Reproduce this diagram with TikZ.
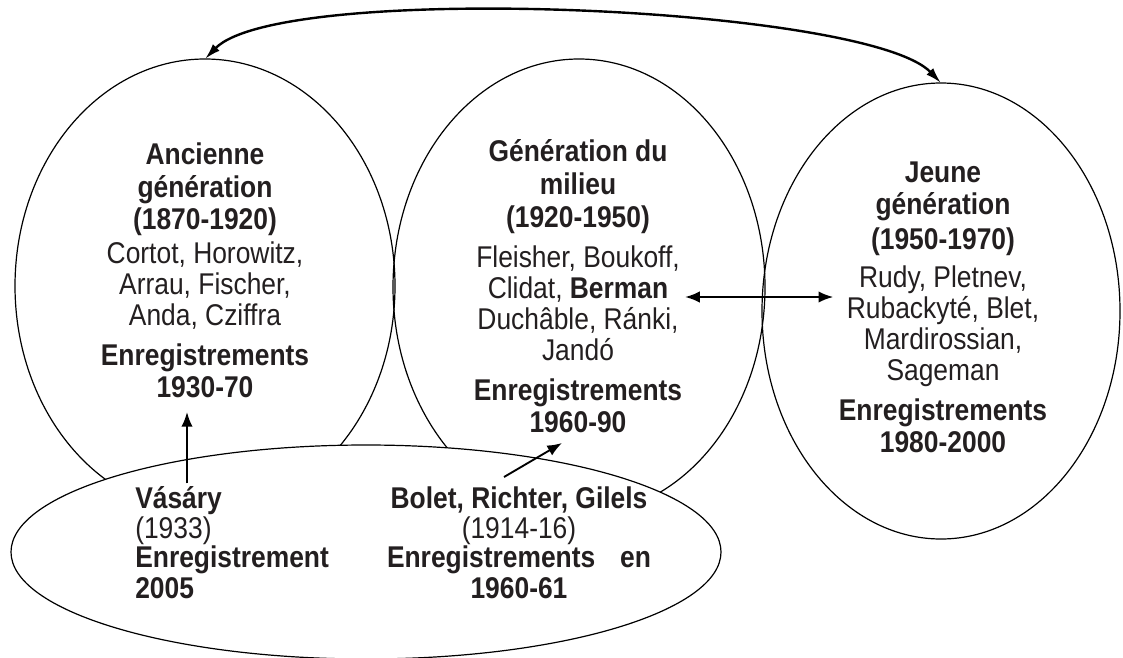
\documentclass[tikz,border=0pt]{standalone}
\usepackage{fontspec}
\setmainfont{Liberation Sans}[FakeStretch=0.88]
\usetikzlibrary{shapes.geometric,arrows.meta}
\definecolor{ink}{RGB}{35,31,32}
\begin{document}
\begin{tikzpicture}[x=0.75pt, y=-0.75pt,
    gen/.style={ellipse, draw, line width=0.9pt, inner sep=0pt, outer sep=0pt},
    txt/.style={align=center, inner sep=0pt, text=ink, anchor=base, font=\fontsize{22.5}{23.25}\selectfont},
    arr/.style={-{Latex[length=11pt,width=8.5pt]}, line width=1.4pt}
]
\useasboundingbox (0,0) rectangle (1123,657);

% Generations
\node[gen, minimum width=285pt, minimum height=340.5pt] (anc) at (205,286) {};
\node[gen, minimum width=279pt, minimum height=342pt] (mil) at (579,287) {};
\node[gen, minimum width=268.5pt, minimum height=342pt] (jeu) at (941,311) {};

% Older pianists, drawn over the generations
\node[gen, fill=white, minimum width=532.5pt, minimum height=160.5pt] (bas) at (366,552) {};

% Texts (placed by their last line)
\node[txt] (ancT) at (205,397) {\textbf{Ancienne}\\[1pt]\textbf{g\'en\'eration}\\[1.25pt]\textbf{(1870-1920)}\\[2pt]
    Cortot, Horowitz,\\Arrau, Fischer,\\Anda, Cziffra\\[6.5pt]\textbf{Enregistrements}\\[0.75pt]\textbf{1930-70}};
\node[txt] (milT) at (578,432) {\textbf{G\'en\'eration du}\\[1.5pt]\textbf{milieu}\\[1.5pt]\textbf{(1920-1950)}\\[6.5pt]
    Fleisher, Boukoff,\\Clidat, \textbf{Berman}\\Duch\^able, R\'anki,\\Jand\'o\\[6.5pt]\textbf{Enregistrements}\\[0.75pt]\textbf{1960-90}};
\node[txt] (jeuT) at (943,452) {\textbf{Jeune}\\[1pt]\textbf{g\'en\'eration}\\[3pt]\textbf{(1950-1970)}\\[5pt]
    Rudy, Pletnev,\\Rubackyt\'e, Blet,\\Mardirossian,\\Sageman\\[6.5pt]\textbf{Enregistrements}\\[0.75pt]\textbf{1980-2000}};
\node[txt, align=left, anchor=base west] (vas) at (135,598) {\textbf{V\'as\'ary}\\[-1pt](1933)\\[-1.5pt]\textbf{Enregistrement}\\\textbf{2005}};
\node[txt] (bol) at (519,598) {\textbf{Bolet, Richter, Gilels}\\[-1pt](1914-16)\\[-1.5pt]
    \makebox[198pt][s]{\textbf{Enregistrements}\hfill\textbf{en}}\\\textbf{1960-61}};

% Connectors
\coordinate (vasup) at (187,412);
\coordinate (bolbas) at (504,477);
\coordinate (bolup) at (562,443);
\coordinate (berm) at (760,297);
\draw[arr] ([yshift=2pt]vas.north -| vasup) -- (vasup);
\draw[arr] (bolbas) -- (bolup);
\draw[arr, {Latex[length=11pt,width=8.5pt]}-{Latex[length=11pt,width=8.5pt]}] ([xshift=2pt]milT.east |- berm) -- ([xshift=-4pt]jeuT.west |- berm);
\draw[arr, line width=1.8pt, {Latex[length=12pt,width=7pt]}-{Latex[length=12pt,width=7pt]}] (anc.north) .. controls (281,-19) and (867,6) .. (jeu.north);
\end{tikzpicture}
\end{document}
